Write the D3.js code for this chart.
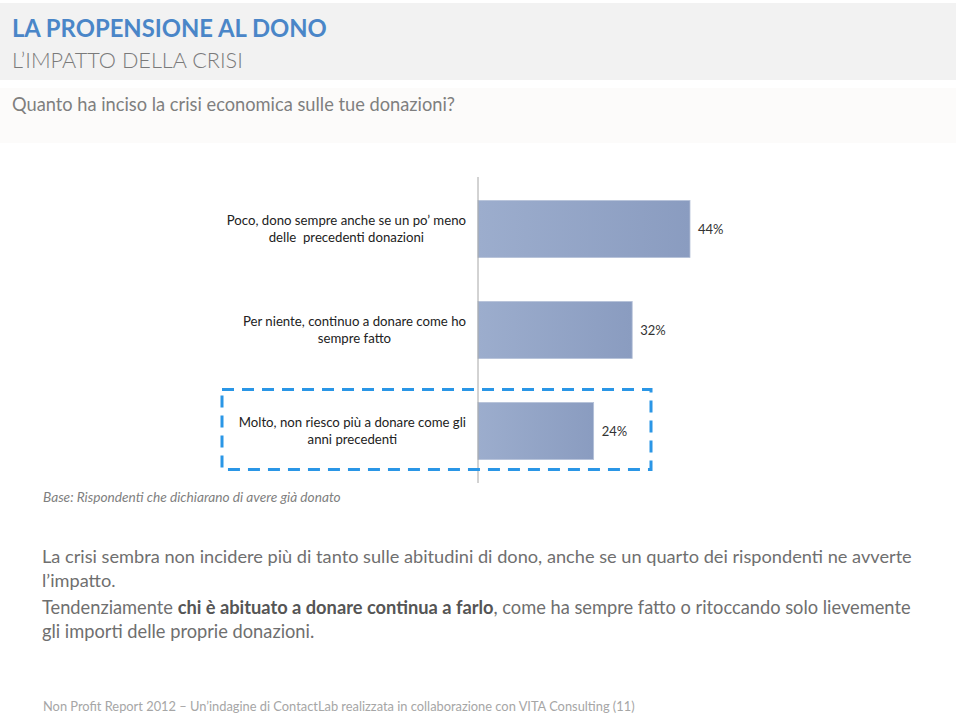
<!DOCTYPE html>
<html>
<head>
<meta charset="utf-8">
<script src="https://cdn.jsdelivr.net/npm/d3@7"></script>
<style>
  html, body { margin: 0; padding: 0; background: #fff; }
  svg { display: block; font-family: Lato, "Open Sans", sans-serif; }
</style>
</head>
<body>
<svg id="chart" width="960" height="716"></svg>
<script>
// ---- data ----
const categories = [
  ["Poco, dono sempre anche se un po\u2019 meno", "delle  precedenti donazioni"],
  ["Per niente, continuo a donare come ho", "sempre fatto"],
  ["Molto, non riesco più a donare come gli", "anni precedenti"]
];
const values = [44, 32, 24];
const valueLabels = ["44%", "32%", "24%"];
const highlighted = [false, false, true];

const title = "LA PROPENSIONE AL DONO";
const subtitle = "L\u2019IMPATTO DELLA CRISI";
const question = "Quanto ha inciso la crisi economica sulle tue donazioni?";
const baseNote = "Base: Rispondenti che dichiarano di avere già donato";
const bodyLines = [
  [{t: "La crisi sembra non incidere più di tanto sulle abitudini di dono, anche se un quarto dei rispondenti ne avverte", b: false}],
  [{t: "l\u2019impatto.", b: false}],
  [{t: "Tendenziamente ", b: false}, {t: "chi è abituato a donare continua a farlo", b: true}, {t: ", come ha sempre fatto o ritoccando solo lievemente", b: false}],
  [{t: "gli importi delle proprie donazioni.", b: false}]
];
const footer = "Non Profit Report 2012 \u2013 Un\u2019indagine di ContactLab realizzata in collaborazione con VITA Consulting (11)";

// ---- setup ----
const svg = d3.select("#chart");

function fitWidth(sel, target) {
  const node = sel.node();
  const fs = parseFloat(sel.attr("font-size"));
  const w = node.getComputedTextLength();
  sel.attr("font-size", (fs * target / w).toFixed(2));
}

// header bands
svg.append("rect").attr("x", 0).attr("y", 3).attr("width", 956).attr("height", 77).attr("fill", "#f2f2f2");
svg.append("rect").attr("x", 0).attr("y", 88).attr("width", 956).attr("height", 55).attr("fill", "#fcfbfa");

const tTitle = svg.append("text").attr("x", 12).attr("y", 37).attr("font-size", 24)
  .attr("font-weight", "bold").attr("fill", "#4a86c8").text(title);
fitWidth(tTitle, 315);
const tSub = svg.append("text").attr("x", 12).attr("y", 68).attr("font-size", 22)
  .attr("font-weight", 300).attr("fill", "#7a7a7a").text(subtitle);
fitWidth(tSub, 231);
const tQ = svg.append("text").attr("x", 12).attr("y", 111).attr("font-size", 17)
  .attr("fill", "#7f7f7f").text(question);
fitWidth(tQ, 443);

// ---- chart ----
const axisX = 478;
const x = d3.scaleLinear().domain([0, 44]).range([axisX, 690]);
const y = d3.scaleBand().domain(d3.range(values.length)).range([177, 483]).paddingInner(0.436).paddingOuter(0.233);

const defs = svg.append("defs");
const grad = defs.append("linearGradient").attr("id", "barGrad").attr("x1", "0%").attr("x2", "100%");
grad.append("stop").attr("offset", "0%").attr("stop-color", "#9cadcd");
grad.append("stop").attr("offset", "100%").attr("stop-color", "#8a9cc0");

const g = svg.append("g");
g.selectAll("rect.bar").data(values).join("rect")
  .attr("class", "bar")
  .attr("x", x(0))
  .attr("y", (d, i) => y(i))
  .attr("width", d => x(d) - x(0))
  .attr("height", y.bandwidth())
  .attr("fill", "url(#barGrad)")
  .attr("stroke", "#b3c0d8").attr("stroke-width", 0.8);

g.selectAll("text.val").data(values).join("text")
  .attr("class", "val")
  .attr("x", d => x(d) + 8)
  .attr("y", (d, i) => y(i) + y.bandwidth() / 2 + 5)
  .attr("font-size", 13).attr("fill", "#333")
  .text((d, i) => valueLabels[i]);

// axis line
const yAxis = d3.axisLeft(y).tickSize(0).tickFormat("");
const axG = svg.append("g").attr("transform", `translate(${axisX},0)`).call(yAxis);
axG.select(".domain").attr("stroke", "#a6a6a6").attr("stroke-width", 1).attr("d", `M0,177V483`);

// category labels
categories.forEach((lines, i) => {
  const cy = y(i) + y.bandwidth() / 2;
  const grp = svg.append("g");
  const t1 = grp.append("text").attr("font-size", 13.2).attr("fill", "#222").text(lines[0]);
  const w1 = t1.node().getComputedTextLength();
  const cx = 466 - w1 / 2;
  t1.attr("x", cx).attr("y", cy - 4).attr("text-anchor", "middle");
  grp.append("text").attr("font-size", 13.2).attr("fill", "#222")
    .attr("x", cx).attr("y", cy + 13).attr("text-anchor", "middle")
    .style("white-space", "pre").text(lines[1]);
});

// highlight dashed box
highlighted.forEach((h, i) => {
  if (!h) return;
  svg.append("rect")
    .attr("x", 222).attr("y", y(i) - 13)
    .attr("width", 429).attr("height", y.bandwidth() + 23)
    .attr("fill", "none").attr("stroke", "#2a96e6").attr("stroke-width", 3)
    .attr("stroke-dasharray", "12,8");
});

// base note
svg.append("text").attr("x", 43).attr("y", 502).attr("font-size", 12)
  .attr("font-style", "italic").attr("fill", "#7f7f7f").text(baseNote)
  .call(s => fitWidth(s, 298));

// body text
const bodyY = [563, 587, 614, 638];
const bodyW = [871, null, 869, null];
let bodyFs = null;
bodyLines.forEach((segs, i) => {
  const t = svg.append("text").attr("x", 42).attr("y", bodyY[i]).attr("font-size", 17).attr("fill", "#6f6f6f");
  segs.forEach(s => t.append("tspan").attr("font-weight", s.b ? "bold" : null).attr("fill", s.b ? "#555" : null).text(s.t));
  if (bodyW[i]) fitWidth(t, bodyW[i]);
  else if (bodyFs) t.attr("font-size", bodyFs);
  bodyFs = t.attr("font-size");
});

// footer
svg.append("text").attr("x", 43).attr("y", 711).attr("font-size", 13)
  .attr("fill", "#a6a6a6").text(footer)
  .call(s => fitWidth(s, 592));
</script>
</body>
</html>
